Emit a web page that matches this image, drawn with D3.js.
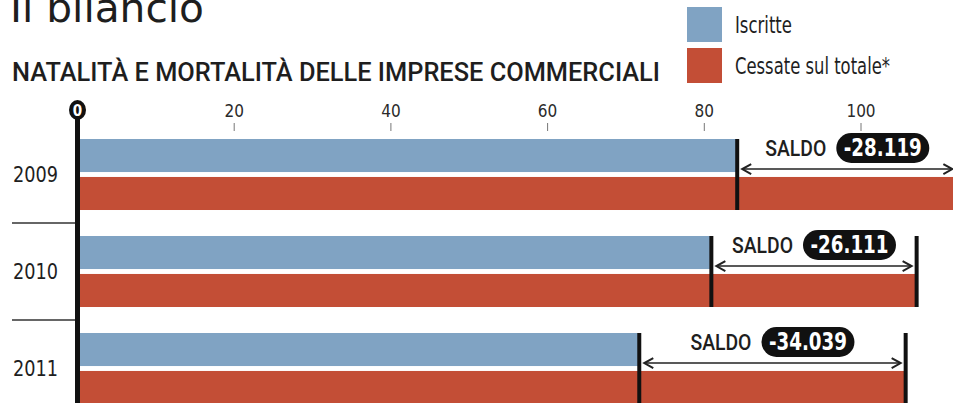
<!DOCTYPE html>
<html lang="it">
<head>
<meta charset="UTF-8">
<title>Natalità e mortalità delle imprese commerciali</title>
<script src="https://cdn.jsdelivr.net/npm/d3@7"></script>
<style>
  body { margin: 0; background: #fff; }
  svg { display: block; font-family: "Liberation Sans Narrow", "DejaVu Sans Condensed", sans-serif; }
  .heavy { font-family: Roboto, "DejaVu Sans Condensed", sans-serif; font-weight: 500; }
</style>
</head>
<body>
<div id="root"></div>
<script>
// dati (migliaia di imprese)
var years = ['2009', '2010', '2011']
var series = ['Iscritte', 'Cessate sul totale*']
var iscritte = [84.2, 80.9, 71.7]
var cessate = [112.3, 107.1, 105.7]
var saldo = ['-28.119', '-26.111', '-34.039']
var ticks = [0, 20, 40, 60, 80, 100]

var width = 953
var height = 403
var blue = '#80a3c3'
var red = '#c34e36'
var ink = '#1e1e1e'

var svg = d3.select('#root')
            .append('svg')
            .attr('width', width)
            .attr('height', height)

svg.append('rect').attr('width', width).attr('height', height).attr('fill', '#fff')

var x = d3.scaleLinear().domain([0, 100]).range([77.5, 861])

var y = d3.scaleBand()
          .domain(years)
          .range([126, 417])
          .paddingInner(0.268)
          .paddingOuter(0.134)

var ySub = d3.scaleBand()
             .domain(series)
             .range([0, y.bandwidth()])
             .paddingInner(0.13)

var rows = years.map(function(yr, i) {
    return { year: yr, values: [iscritte[i], cessate[i]], saldo: saldo[i] }
})

// titolo (tagliato in alto come nell'originale)
svg.append('text')
   .attr('x', 10).attr('y', 22)
   .attr('font-size', 40)
   .attr('textLength', 194)
   .attr('lengthAdjust', 'spacingAndGlyphs')
   .attr('fill', ink)
   .text('Il bilancio')

svg.append('text')
   .attr('class', 'heavy')
   .attr('x', 12).attr('y', 81)
   .attr('font-size', 26)
   .attr('textLength', 648)
   .attr('lengthAdjust', 'spacingAndGlyphs')
   .attr('fill', ink)
   .text('NATALITÀ E MORTALITÀ DELLE IMPRESE COMMERCIALI')

// legenda
var legend = svg.selectAll('.legend')
                .data(series)
                .enter()
                .append('g')
                    .attr('class', 'legend')
                    .attr('transform', function(d, i) { return 'translate(687,' + (7 + i * 41) + ')' })

legend.append('rect')
      .attr('width', 35).attr('height', 35)
      .attr('fill', function(d, i) { return i === 0 ? blue : red })

legend.append('text')
      .attr('x', 48).attr('y', 26)
      .attr('font-size', 23)
      .attr('textLength', function(d, i) { return i === 0 ? 57 : 155 })
      .attr('lengthAdjust', 'spacingAndGlyphs')
      .attr('fill', ink)
      .text(function(d) { return d })

// asse superiore
svg.selectAll('.tick-mark')
   .data(ticks.slice(1))
   .enter()
   .append('line')
       .attr('x1', function(d) { return x(d) })
       .attr('x2', function(d) { return x(d) })
       .attr('y1', 123).attr('y2', 131)
       .attr('stroke', '#777')
       .attr('stroke-width', 1)

svg.selectAll('.tick-label')
   .data(ticks.slice(1))
   .enter()
   .append('text')
       .attr('x', function(d) { return x(d) })
       .attr('y', 117)
       .attr('text-anchor', 'middle')
       .attr('font-size', 17)
       .attr('fill', '#2a2a2a')
       .text(function(d) { return d })

// barre
var groups = svg.selectAll('.year')
                .data(rows)
                .enter()
                .append('g')
                    .attr('transform', function(d) { return 'translate(0,' + y(d.year) + ')' })

groups.selectAll('rect')
      .data(function(d) { return d.values })
      .enter()
      .append('rect')
          .attr('x', x(0))
          .attr('y', function(d, i) { return ySub(series[i]) })
          .attr('width', function(d) { return x(d) - x(0) })
          .attr('height', ySub.bandwidth())
          .attr('fill', function(d, i) { return i === 0 ? blue : red })

groups.append('text')
      .attr('x', 13)
      .attr('y', y.bandwidth() / 2 + 8)
      .attr('font-size', 22)
      .attr('textLength', 45)
      .attr('lengthAdjust', 'spacingAndGlyphs')
      .attr('fill', ink)
      .text(function(d) { return d.year })

// linee verticali di fine barra
groups.selectAll('.end')
      .data(function(d) { return d.values })
      .enter()
      .append('line')
          .attr('x1', function(d) { return x(d) })
          .attr('x2', function(d) { return x(d) })
          .attr('y1', 0)
          .attr('y2', y.bandwidth())
          .attr('stroke', '#111')
          .attr('stroke-width', 4)

// frecce del saldo
var arrowY = ySub.bandwidth() - 3
groups.append('line')
      .attr('x1', function(d) { return x(d.values[0]) + 6 })
      .attr('x2', function(d) { return x(d.values[1]) - 6 })
      .attr('y1', arrowY).attr('y2', arrowY)
      .attr('stroke', '#222').attr('stroke-width', 1.5)

groups.append('path')
      .attr('d', function(d) {
          var a = x(d.values[0]) + 5
          return 'M' + (a + 9) + ',' + (arrowY - 5) + 'L' + a + ',' + arrowY + 'L' + (a + 9) + ',' + (arrowY + 5)
      })
      .attr('fill', 'none').attr('stroke', '#222').attr('stroke-width', 2)

groups.append('path')
      .attr('d', function(d) {
          var b = x(d.values[1]) - 5
          return 'M' + (b - 9) + ',' + (arrowY - 5) + 'L' + b + ',' + arrowY + 'L' + (b - 9) + ',' + (arrowY + 5)
      })
      .attr('fill', 'none').attr('stroke', '#222').attr('stroke-width', 2)

// etichette SALDO
var label = groups.append('g')
                  .attr('transform', function(d) {
                      var mid = (x(d.values[0]) + x(d.values[1])) / 2
                      return 'translate(' + (mid - 82) + ',9)'
                  })

label.append('text')
     .attr('class', 'heavy')
     .attr('x', 0).attr('y', 8)
     .attr('font-size', 22)
     .attr('textLength', 61)
     .attr('lengthAdjust', 'spacingAndGlyphs')
     .attr('fill', ink)
     .text('SALDO')

label.append('rect')
     .attr('x', 71).attr('y', -15)
     .attr('width', 93).attr('height', 30)
     .attr('rx', 15)
     .attr('fill', '#111')

label.append('text')
     .attr('x', 117.5).attr('y', 8.5)
     .attr('text-anchor', 'middle')
     .attr('font-size', 24)
     .attr('font-weight', 'bold')
     .attr('textLength', 78)
     .attr('lengthAdjust', 'spacingAndGlyphs')
     .attr('fill', '#fff')
     .text(function(d) { return d.saldo })

// separatori tra anni
svg.selectAll('.sep')
   .data(years.slice(1))
   .enter()
   .append('line')
       .attr('x1', 12).attr('x2', x(0))
       .attr('y1', function(d) { return y(d) - (y.step() - y.bandwidth()) / 2 })
       .attr('y2', function(d) { return y(d) - (y.step() - y.bandwidth()) / 2 })
       .attr('stroke', '#333').attr('stroke-width', 1.5)

// asse dello zero
svg.append('line')
   .attr('x1', x(0)).attr('x2', x(0))
   .attr('y1', 112).attr('y2', height)
   .attr('stroke', '#111').attr('stroke-width', 5)

svg.append('ellipse')
   .attr('cx', x(0)).attr('cy', 110)
   .attr('rx', 8.5).attr('ry', 10)
   .attr('fill', '#111')

svg.append('text')
   .attr('x', x(0)).attr('y', 116)
   .attr('text-anchor', 'middle')
   .attr('font-size', 15)
   .attr('font-weight', 'bold')
   .attr('fill', '#fff')
   .text('0')
</script>
</body>
</html>
